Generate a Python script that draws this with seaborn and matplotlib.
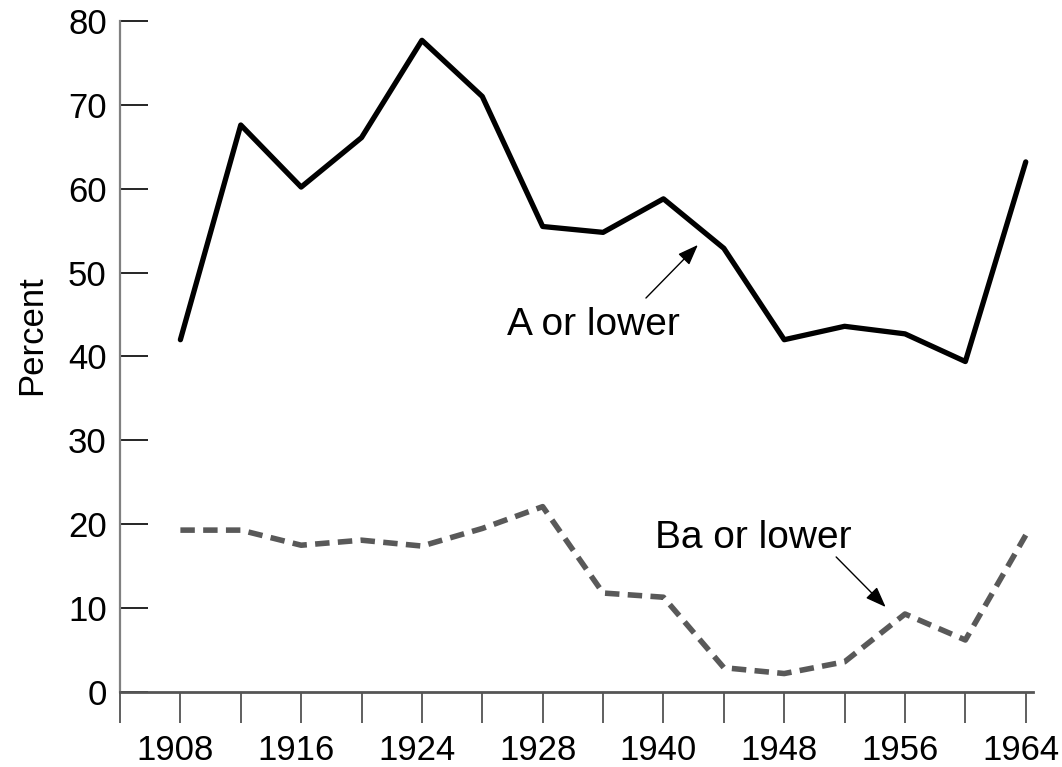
import matplotlib
matplotlib.use("Agg")
import matplotlib.pyplot as plt
import matplotlib.transforms as mtransforms
import seaborn as sns
import pandas as pd
import numpy as np

# ---- data ----
categories = ["1908", "1912", "1916", "1920", "1924", "1926", "1928", "1932",
              "1940", "1944", "1948", "1952", "1956", "1960", "1964"]
shown_labels = ["1908", "", "1916", "", "1924", "", "1928", "",
                "1940", "", "1948", "", "1956", "", "1964"]
a_or_lower = [42.0, 67.6, 60.2, 66.1, 77.7, 71.0, 55.5, 54.8, 58.8, 52.9,
              42.0, 43.6, 42.7, 39.4, 63.2]
ba_or_lower = [19.3, 19.3, 17.5, 18.1, 17.4, 19.5, 22.1, 11.8, 11.3, 2.9,
               2.2, 3.6, 9.3, 6.2, 18.7]
y_ticks = [0, 10, 20, 30, 40, 50, 60, 70, 80]

sns.set_theme(style="white")
plt.rcParams['font.family'] = ['Liberation Sans', 'DejaVu Sans']
plt.rcParams['text.color'] = 'black'
plt.rcParams['axes.labelcolor'] = 'black'

df = pd.DataFrame({
    "idx": list(range(len(categories))) * 2,
    "value": a_or_lower + ba_or_lower,
    "series": ["A or lower"] * len(categories) + ["Ba or lower"] * len(categories),
})

fig = plt.figure(figsize=(10.62, 7.67), dpi=100)
ax = fig.add_axes([120 / 1062, 1 - 692 / 767, (1033 - 120) / 1062, (692 - 21) / 767])

sns.lineplot(data=df[df.series == "A or lower"], x="idx", y="value", ax=ax,
             color="black", linewidth=3.8, legend=False)
sns.lineplot(data=df[df.series == "Ba or lower"], x="idx", y="value", ax=ax,
             color="#595959", linewidth=4.0, legend=False, dashes=False,
             linestyle=(0, (2.6, 1.5)))

ax.set_xlim(-1, 14.12)
ax.set_ylim(0, 80)
ax.set_yticks(y_ticks)
ax.set_yticklabels([str(v) for v in y_ticks])
ax.set_xticks(list(range(-1, len(categories))))
ax.set_xticklabels([""] + shown_labels)

for s in ["top", "right"]:
    ax.spines[s].set_visible(False)
ax.spines["left"].set_color("#808080")
ax.spines["left"].set_linewidth(1.6)
ax.spines["bottom"].set_color("#555555")
ax.spines["bottom"].set_linewidth(2)

ax.tick_params(axis="y", direction="in", length=20, width=1.2, color="black",
               labelsize=25, pad=9.5, left=True, labelcolor="black")
ax.tick_params(axis="x", direction="out", length=22, width=1.2, color="#444444",
               labelsize=25, pad=8.5, bottom=True, labelcolor="black")

# reference labels sit a few pixels left of their ticks
shift = mtransforms.ScaledTranslation(-5 / 100, 0, fig.dpi_scale_trans)
for lab in ax.get_xticklabels():
    lab.set_transform(lab.get_transform() + shift)

ax.set_xlabel("")
ax.set_ylabel("Percent", fontsize=25)
ax.yaxis.set_label_coords(-0.0790, 0.532)

# annotation texts
ax.text(5.41, 42.6, "A or lower", fontsize=28, ha="left", va="baseline")
ax.text(7.86, 17.2, "Ba or lower", fontsize=28, ha="left", va="baseline")

arrow_style = dict(arrowstyle="-|>,head_length=0.45,head_width=0.17",
                   color="black", lw=1, shrinkA=0, shrinkB=0, mutation_scale=28)
ax.annotate("", xy=(8.57, 53.3), xytext=(7.71, 46.97), arrowprops=arrow_style)
ax.annotate("", xy=(11.68, 10.13), xytext=(10.86, 16.1), arrowprops=arrow_style)

fig.savefig("out.png", dpi=100)
